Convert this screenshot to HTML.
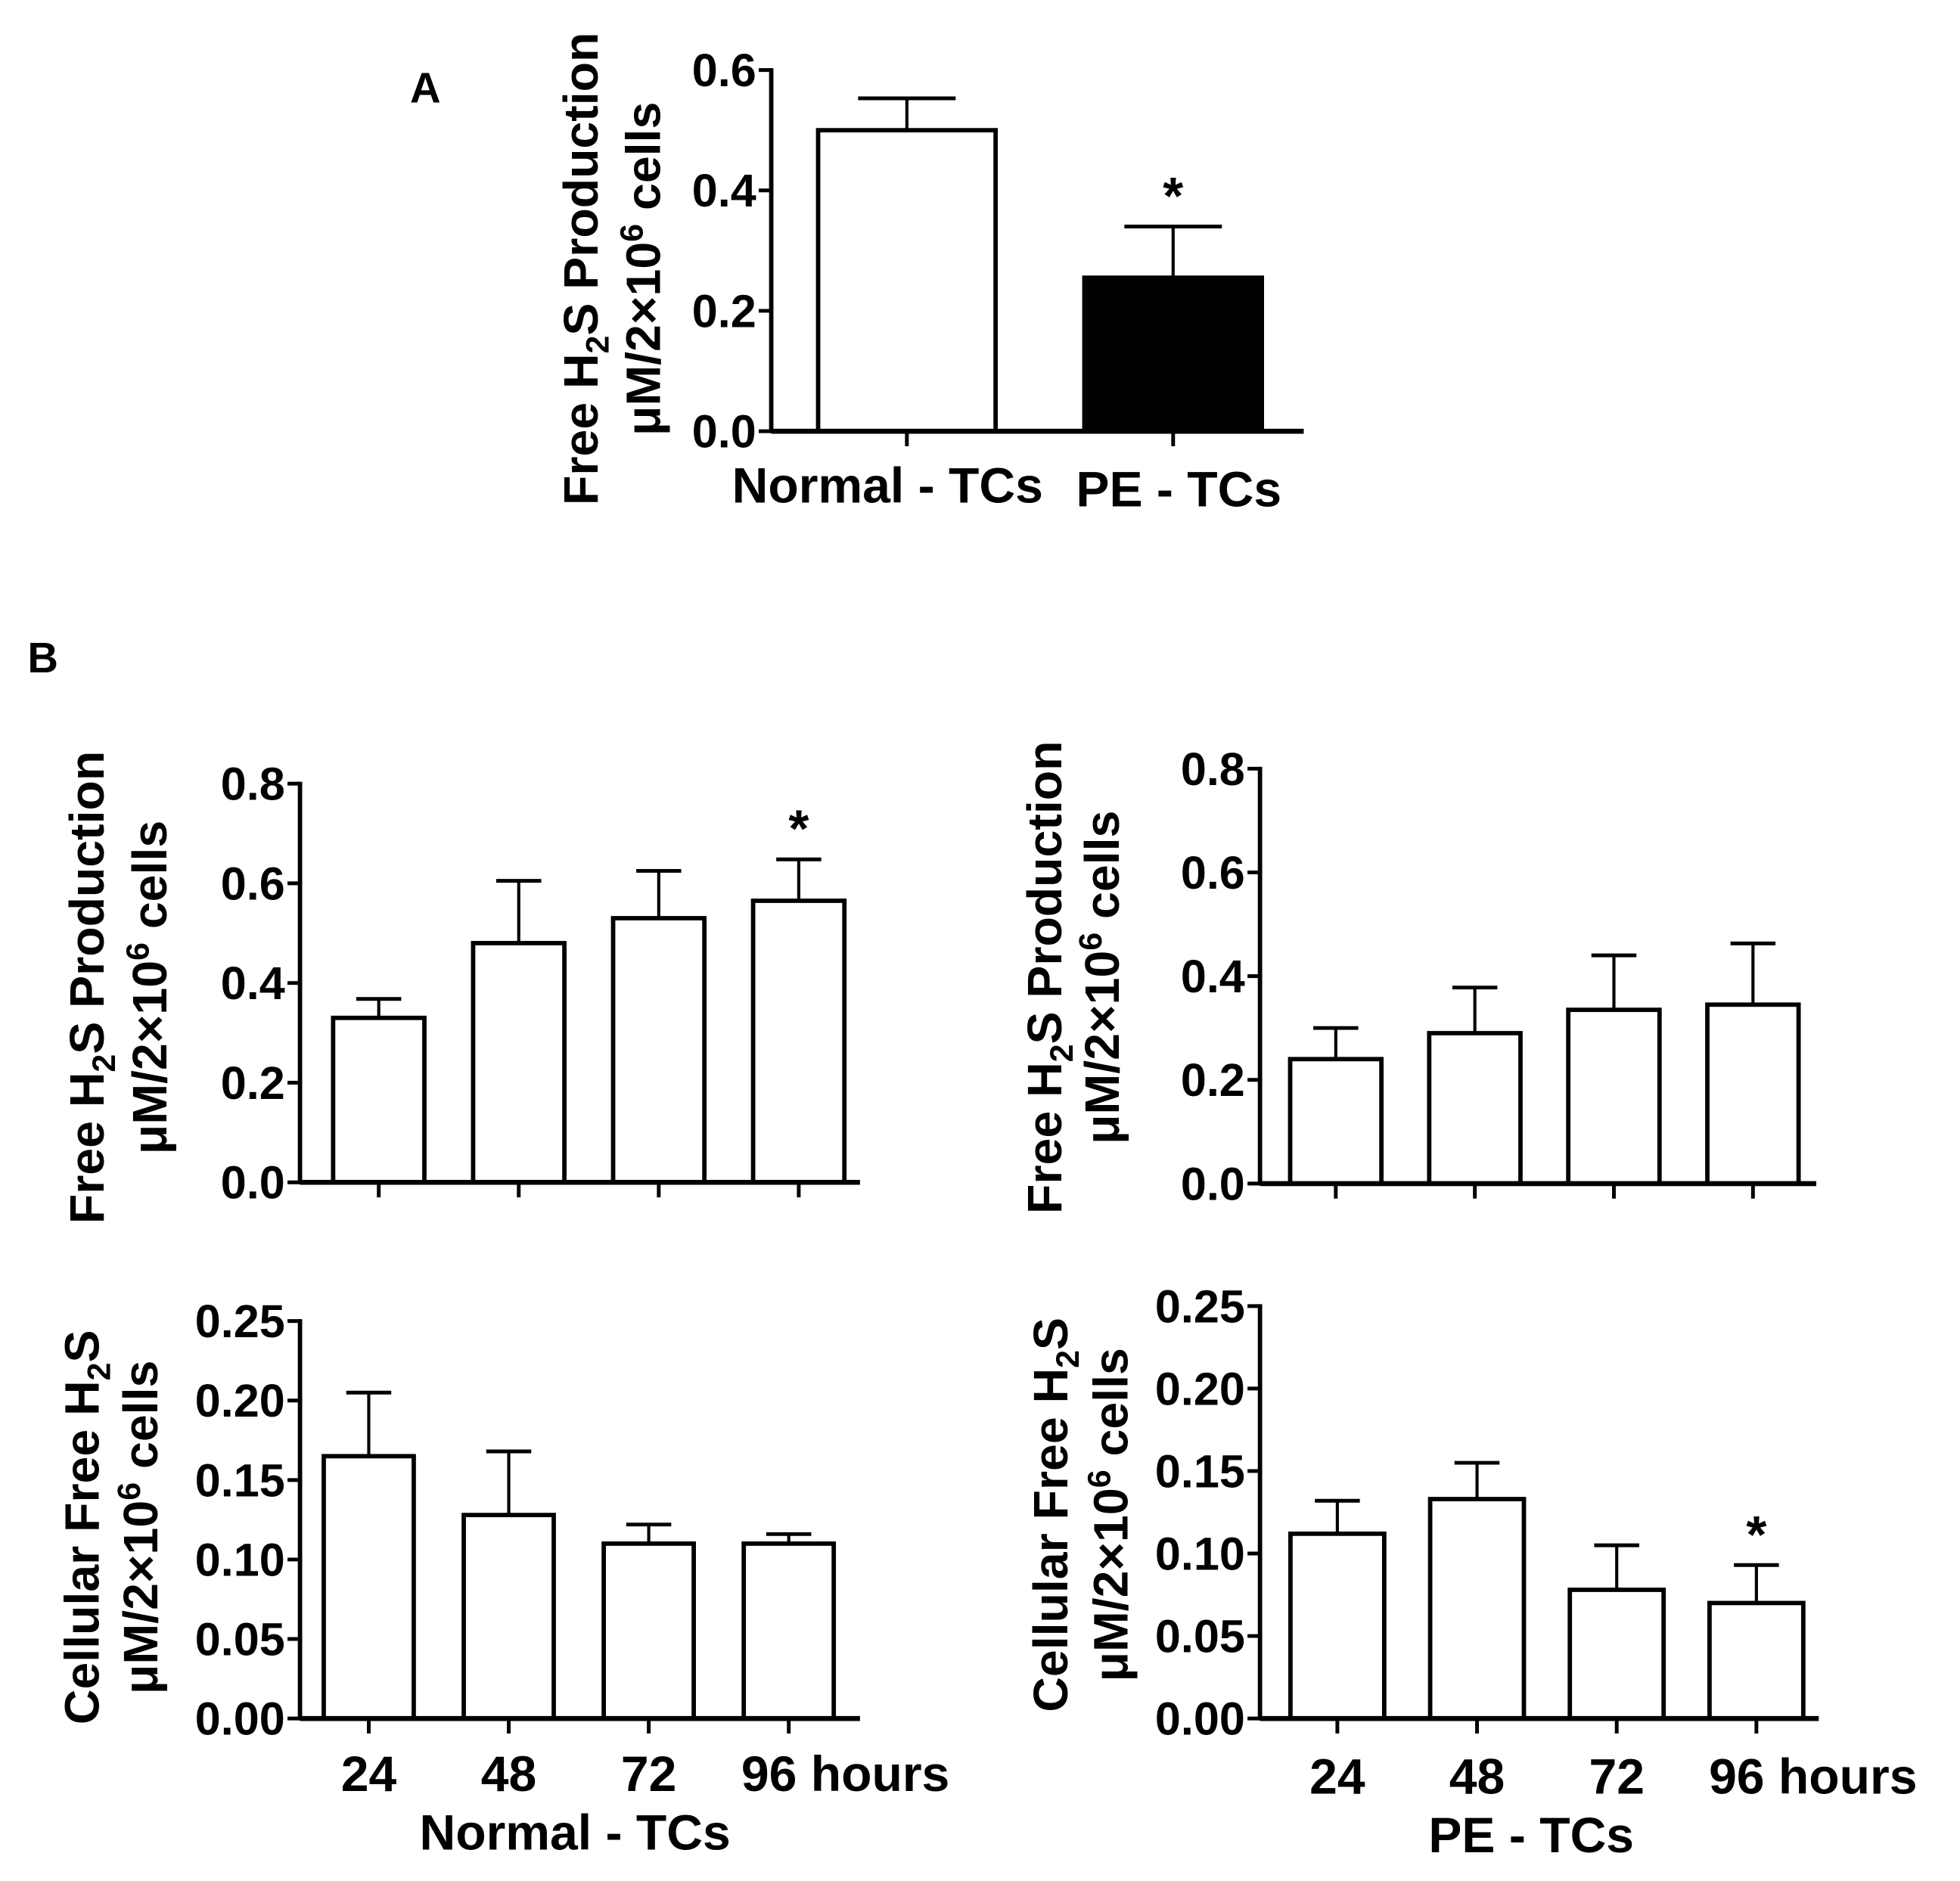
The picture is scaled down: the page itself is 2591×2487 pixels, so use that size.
<!DOCTYPE html>
<html><head><meta charset="utf-8">
<style>
html,body{margin:0;padding:0;background:#fff;}
svg{display:block;}
text{font-family:"Liberation Sans",Arial,sans-serif;font-weight:bold;fill:#000;}
</style></head>
<body>
<svg id="fig" width="2591" height="2487" viewBox="0 0 1568 1505" xmlns="http://www.w3.org/2000/svg">
<text x="328" y="82" font-size="34">A</text>
<text x="22" y="538" font-size="34">B</text>
</svg>
<script>
// Panel A
const aCategories = ["Normal - TCs", "PE - TCs"];
const aValues = [0.50, 0.255];
const aErrors = [0.553, 0.34];
const aTicks = [0.0, 0.2, 0.4, 0.6];
const aTickLabels = ["0.0", "0.2", "0.4", "0.6"];
const aStars = [false, true];
// Panel B
const hours = ["24", "48", "72", "96 hours"];
const normalProd = [0.33, 0.48, 0.53, 0.565];
const normalProdErr = [0.368, 0.605, 0.625, 0.648];
const normalProdStar = [false, false, false, true];
const peProd = [0.24, 0.29, 0.335, 0.345];
const peProdErr = [0.30, 0.378, 0.44, 0.463];
const peProdStar = [false, false, false, false];
const normalCell = [0.165, 0.128, 0.11, 0.11];
const normalCellErr = [0.205, 0.168, 0.122, 0.116];
const normalCellStar = [false, false, false, false];
const peCell = [0.112, 0.133, 0.078, 0.07];
const peCellErr = [0.132, 0.155, 0.105, 0.093];
const peCellStar = [false, false, false, true];
const prodTicks = [0, 0.2, 0.4, 0.6, 0.8];
const prodTickLabels = ["0.0", "0.2", "0.4", "0.6", "0.8"];
const cellTicks = [0, 0.05, 0.10, 0.15, 0.20, 0.25];
const cellTickLabels = ["0.00", "0.05", "0.10", "0.15", "0.20", "0.25"];

const NS = "http://www.w3.org/2000/svg";
const svg = document.getElementById("fig");
function mk(tag, attrs, parent) {
  const e = document.createElementNS(NS, tag);
  for (const k in attrs) e.setAttribute(k, attrs[k]);
  (parent || svg).appendChild(e);
  return e;
}

function chart(cfg) {
  const g = mk("g", {});
  
  
  const y = v => cfg.y0 - (v / cfg.max) * (cfg.y0 - cfg.yTop);
  const n = cfg.values.length;
  const slot = (cfg.x1 - cfg.x0) / n;
  const xc = i => cfg.x0 + cfg.offset + slot * (i + 0.5);
  cfg.values.forEach((v, i) => {
    const cx = xc(i);
    const eb = mk("line", {x1: cx, x2: cx, y1: y(v), y2: y(cfg.errors[i]), stroke: "#000", "stroke-width": 2.5}, g);
    
    
    const cap = mk("line", {x1: cx - cfg.capW / 2, x2: cx + cfg.capW / 2, y1: y(cfg.errors[i]), y2: y(cfg.errors[i]), stroke: "#000", "stroke-width": 3}, g);
    
    
    const r = mk("rect", {x: cx - cfg.barW / 2, y: y(v), width: cfg.barW, height: cfg.y0 - y(v),
      fill: cfg.fills ? cfg.fills[i] : "#fff", stroke: "#000", "stroke-width": 3.5}, g);
    
    
    if (cfg.stars[i]) {
      const s = mk("text", {x: cx, y: y(cfg.errors[i]) - 10, "font-size": 42, "text-anchor": "middle"}, g);
      s.textContent = "*";
      
      
    }
    const t = mk("line", {x1: cx, x2: cx, y1: cfg.y0, y2: cfg.y0 + 12, stroke: "#000", "stroke-width": 3}, g);
    
    
    if (cfg.xLabels) {
      const lab = cfg.xLabels[i];
      const anchorStart = lab.length > 3;
      const lt = mk("text", {x: anchorStart ? cx - 38 : cx, y: cfg.y0 + cfg.xLabelDy, "font-size": cfg.xFont,
        "text-anchor": anchorStart ? "start" : "middle"}, g);
      lt.textContent = lab;
      
      
    }
  });
  const ya = mk("line", {x1: cfg.x0, x2: cfg.x0, y1: cfg.yTop - 1.5, y2: cfg.y0 + 1.5, stroke: "#000", "stroke-width": 3.5}, g);
  
  
  const xa = mk("line", {x1: cfg.x0, x2: cfg.x1, y1: cfg.y0, y2: cfg.y0, stroke: "#000", "stroke-width": 4}, g);
  
  
  cfg.ticks.forEach((tv, i) => {
    const tk = mk("line", {x1: cfg.x0 - 10, x2: cfg.x0, y1: y(tv), y2: y(tv), stroke: "#000", "stroke-width": 3}, g);
    
    
    const tl = mk("text", {x: cfg.x0 - 12, y: y(tv) + 13, "font-size": 37, "text-anchor": "end"}, g);
    tl.textContent = cfg.tickLabels[i];
    
    
  });
  const cy = cfg.titleY;
  cfg.title.forEach((line, li) => {
    const tx = cfg.titleX[li];
    const t = mk("text", {x: tx, y: cy, "font-size": 39, "text-anchor": "middle", transform: `rotate(-90 ${tx} ${cy})`}, g);
    t.innerHTML = line;
    
    
  });
  if (cfg.groupLabel) {
    const gl = mk("text", {x: cfg.groupLabel[1], y: cfg.groupLabel[2], "font-size": 40, "text-anchor": "middle"}, g);
    gl.textContent = cfg.groupLabel[0];
    
    
  }
}

const prodTitle = ['Free H<tspan font-size="26" dy="9">2</tspan><tspan dy="-9">S Production</tspan>',
  'μM/2×10<tspan font-size="26" dy="-14">6</tspan><tspan dy="14"> cells</tspan>'];
const cellTitle = ['Cellular Free H<tspan font-size="26" dy="9">2</tspan><tspan dy="-9">S</tspan>',
  'μM/2×10<tspan font-size="26" dy="-14">6</tspan><tspan dy="14"> cells</tspan>'];

chart({name: "panel-a-chart", x0: 617, x1: 1043, y0: 345, yTop: 56, max: 0.6, offset: 2,
  values: aValues, errors: aErrors, stars: aStars, ticks: aTicks, tickLabels: aTickLabels,
  barW: 142, capW: 78, fills: ["#fff", "#000"], barNames: ["normal", "pe"],
  xLabels: null, title: prodTitle, titleX: [478, 528], titleY: 215});
const la = mk("text", {x: 710, y: 402, "font-size": 40, "text-anchor": "middle"});
la.textContent = aCategories[0];


const lb = mk("text", {x: 943, y: 405, "font-size": 40, "text-anchor": "middle"});
lb.textContent = aCategories[1];



chart({name: "normal-production-chart", x0: 240, x1: 688, y0: 946, yTop: 627, max: 0.8, offset: 7,
  values: normalProd, errors: normalProdErr, stars: normalProdStar, ticks: prodTicks, tickLabels: prodTickLabels,
  barW: 73, capW: 36, xLabels: null, title: prodTitle, titleX: [83, 133], titleY: 790});
chart({name: "pe-production-chart", x0: 1008, x1: 1453, y0: 947, yTop: 615, max: 0.8, offset: 5,
  values: peProd, errors: peProdErr, stars: peProdStar, ticks: prodTicks, tickLabels: prodTickLabels,
  barW: 73, capW: 36, xLabels: null, title: prodTitle, titleX: [849, 895], titleY: 782});
chart({name: "normal-cellular-chart", x0: 240, x1: 688, y0: 1375, yTop: 1057, max: 0.25, offset: -1,
  values: normalCell, errors: normalCellErr, stars: normalCellStar, ticks: cellTicks, tickLabels: cellTickLabels,
  barW: 72, capW: 36, xLabels: hours, xLabelDy: 58, xFont: 40, title: cellTitle, titleX: [79, 126], titleY: 1222,
  groupLabel: ["Normal - TCs", 460, 1480]});
chart({name: "pe-cellular-chart", x0: 1008, x1: 1455, y0: 1375, yTop: 1045, max: 0.25, offset: 6,
  values: peCell, errors: peCellErr, stars: peCellStar, ticks: cellTicks, tickLabels: cellTickLabels,
  barW: 75, capW: 36, xLabels: hours, xLabelDy: 60, xFont: 40, title: cellTitle, titleX: [854, 902], titleY: 1212,
  groupLabel: ["PE - TCs", 1225, 1482]});
</script>
</body></html>
